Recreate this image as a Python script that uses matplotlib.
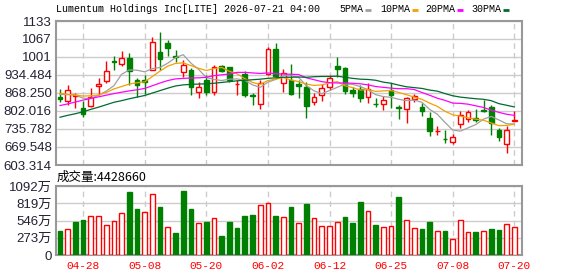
import numpy as np
import pandas as pd
import matplotlib
matplotlib.use('Agg')
import matplotlib.pyplot as plt
from matplotlib.lines import Line2D

# daily bars 2026-04-23 .. 2026-07-20 (US trading days)
holidays = ['2026-05-25', '2026-06-19', '2026-07-03']
dates = pd.bdate_range('2026-04-23', '2026-07-20', freq='C', holidays=holidays)

opens = [854, 838, 857, 812, 821, 895, 913, 985, 976, 998,
         916, 916, 953, 1018, 1052, 1003, 944, 953, 873, 916,
         871, 967, 963, 900, 937, 861, 826, 937, 1029, 904,
         916, 901, 889, 836, 861, 891, 967, 961, 879, 883,
         854, 828, 827, 880, 817, 808, 846, 816, 775, 727,
         700, 689, 754, 771, 775, 806, 818, 732, 679, 767]
highs = [883, 898, 869, 839, 885, 924, 986, 1005, 1023, 1016,
         922, 934, 1075, 1091, 1063, 1026, 990, 959, 910, 934,
         971, 971, 965, 916, 949, 867, 916, 1036, 1051, 955,
         974, 916, 910, 867, 901, 934, 999, 965, 891, 898,
         904, 849, 856, 904, 824, 854, 863, 830, 799, 747,
         732, 717, 803, 806, 808, 842, 824, 738, 746, 802]
lows = [834, 824, 812, 781, 818, 861, 906, 953, 967, 898,
        854, 864, 953, 953, 1003, 983, 928, 861, 848, 861,
        861, 946, 910, 861, 854, 824, 809, 934, 922, 871,
        861, 848, 777, 824, 839, 879, 928, 864, 854, 834,
        830, 815, 805, 812, 771, 756, 836, 783, 711, 713,
        683, 680, 740, 762, 760, 797, 714, 691, 648, 766]
closes = [847, 880, 861, 792, 854, 901, 949, 982, 996, 949,
          898, 910, 1055, 994, 1032, 1000, 971, 889, 890, 873,
          963, 950, 916, 902, 861, 856, 904, 1029, 932, 941,
          864, 895, 821, 852, 888, 922, 956, 875, 869, 851,
          883, 826, 842, 862, 813, 848, 857, 803, 728, 729,
          698, 705, 787, 799, 770, 803, 757, 707, 732, 769]
# volume in 万 shares
volumes = [380, 407, 522, 554, 617, 617, 475, 533, 665, 997,
           728, 675, 966, 760, 438, 354, 1013, 728, 506, 522,
           580, 301, 522, 427, 622, 638, 791, 818, 622, 601,
           765, 506, 807, 580, 459, 459, 522, 601, 512, 839,
           696, 475, 438, 459, 918, 554, 427, 412, 522, 380,
           380, 248, 554, 364, 364, 380, 412, 396, 491, 443]

ma5 = [863, 862, 861, 849, 848, 860, 875, 895, 937, 953,
       952, 946, 958, 962, 978, 998, 1009, 978, 955, 925,
       918, 914, 919, 920, 915, 898, 889, 908, 918, 932,
       932, 925, 895, 876, 866, 877, 889, 901, 900, 892,
       880, 862, 855, 852, 845, 840, 842, 834, 808, 790,
       760, 732, 728, 740, 752, 772, 782, 769, 755, 754]
ma10 = [867, 864, 860, 857, 858, 861, 870, 883, 892, 901,
        906, 909, 929, 949, 967, 977, 979, 969, 959, 951,
        958, 962, 948, 939, 921, 907, 900, 914, 919, 925,
        916, 910, 901, 896, 898, 905, 910, 895, 888, 879,
        881, 874, 876, 877, 870, 862, 853, 845, 831, 819,
        801, 788, 783, 777, 772, 768, 758, 748, 749, 753]
ma20 = [822, 828, 835, 842, 848, 854, 860, 866, 871, 876,
        880, 885, 895, 905, 914, 920, 922, 923, 924, 926,
        932, 935, 938, 944, 944, 942, 940, 942, 939, 938,
        937, 936, 924, 917, 910, 906, 905, 905, 904, 902,
        898, 892, 889, 886, 884, 884, 881, 870, 860, 849,
        841, 831, 830, 827, 821, 815, 805, 797, 790, 786]
ma30 = [779, 786, 792, 799, 808, 816, 825, 834, 840, 847,
        853, 859, 868, 877, 886, 894, 898, 900, 901, 902,
        904, 907, 910, 913, 915, 917, 919, 922, 924, 926,
        926, 927, 926, 928, 929, 929, 930, 926, 922, 919,
        918, 915, 908, 904, 897, 891, 888, 885, 879, 875,
        866, 858, 853, 850, 847, 845, 840, 829, 823, 817]

price_ticks = [603.314, 669.548, 735.782, 802.016, 868.250, 934.484, 1001, 1067, 1133]
price_labels = ['603.314', '669.548', '735.782', '802.016', '868.250', '934.484', '1001', '1067', '1133']
vol_ticks = [0, 273, 546, 819, 1092]
vol_labels = ['0', '273万', '546万', '819万', '1092万']

RED = '#ff0000'
GREEN = '#008000'
GRID = '#cccccc'
FRAME = '#999999'
LABEL = '#222233'
SANS = ['Liberation Sans', 'Noto Sans CJK SC']
MONO = ['Liberation Mono', 'DejaVu Sans Mono']

W, H = 578, 276
fig = plt.figure(figsize=(W / 100, H / 100), dpi=100)
fig.patch.set_facecolor('white')


def box(l, t, r, b):
    return [l / W, 1 - b / H, (r - l) / W, (b - t) / H]


ax = fig.add_axes(box(56, 21, 522, 165))
axv = fig.add_axes(box(56, 186, 522, 255))

x = np.arange(len(closes))
o, h, l, c = map(np.array, (opens, highs, lows, closes))
up = c >= o
col = np.where(up, RED, GREEN)

# candles
ax.vlines(x, l, h, colors=col, lw=1, zorder=3)
body_lo = np.minimum(o, c)
body_h = np.maximum(np.abs(c - o), 1.0)
ax.bar(x, body_h, bottom=body_lo, width=0.62, color=np.where(up, 'white', GREEN),
       edgecolor=col, lw=1, zorder=4)

# moving averages
ax.plot(x, ma5, color='#a0a0a0', lw=0.9, zorder=5)
ax.plot(x, ma10, color='#f5a000', lw=0.9, zorder=5)
ax.plot(x, ma20, color='#ff00ff', lw=0.9, zorder=5)
ax.plot(x, ma30, color='#006a30', lw=0.9, zorder=5)

# volume, coloured by change from previous close
prev = np.r_[o[0], c[:-1]]
vup = c >= prev
axv.bar(x, volumes, width=0.62, color=np.where(vup, 'white', GREEN),
        edgecolor=np.where(vup, RED, GREEN), lw=1, zorder=3)

tick_idx = list(range(3, len(dates), 8))
tick_lab = [dates[i].strftime('%m-%d') for i in tick_idx]

for a in (ax, axv):
    a.set_xlim(-0.52, len(closes) - 0.0)
    a.set_xticks(tick_idx)
    a.grid(axis='x', color=GRID, lw=1, ls=(0, (4, 3)), zorder=0)
    a.grid(axis='y', color=GRID, lw=1, ls='-', zorder=0)
    a.tick_params(length=0)
    for s in a.spines.values():
        s.set_color(FRAME)
        s.set_linewidth(1.5)

ax.set_ylim(price_ticks[0], price_ticks[-1])
ax.set_yticks(price_ticks)
ax.set_yticklabels(price_labels, family=SANS, fontsize=9.5, color=LABEL)
ax.set_xticklabels([])
ax.tick_params(axis='y', pad=3)

axv.set_ylim(0, vol_ticks[-1])
axv.set_yticks(vol_ticks)
axv.set_yticklabels(vol_labels, family=SANS, fontsize=9.5, color=LABEL)
axv.set_xticklabels(tick_lab, family=MONO, fontsize=8, color=RED)
axv.tick_params(axis='y', pad=3)
axv.tick_params(axis='x', pad=4)

# header
fig.text(56 / W, 1 - 9 / H, 'Lumentum Holdings Inc[LITE] 2026-07-21 04:00',
         family=MONO, fontsize=7.2, va='center', ha='left', color='black')
legend = [('5PMA', 339, '#a0a0a0'), ('10PMA', 380, '#f5a000'),
          ('20PMA', 425, '#ff00ff'), ('30PMA', 471, '#006a30')]
for name, px, cl in legend:
    fig.text(px / W, 1 - 9 / H, name, family=MONO, fontsize=7.2, va='center', ha='left')
    x0 = px + len(name) * 6 + 2
    fig.add_artist(Line2D([x0 / W, (x0 + 6) / W], [1 - 10 / H, 1 - 10 / H],
                          color=cl, lw=2, solid_capstyle='butt'))

fig.text(57 / W, 1 - 177.5 / H, '成交量:4428660', family=['Noto Sans CJK SC'],
         fontsize=9, va='center', ha='left', color='black')

fig.savefig('out.png', dpi=100)
